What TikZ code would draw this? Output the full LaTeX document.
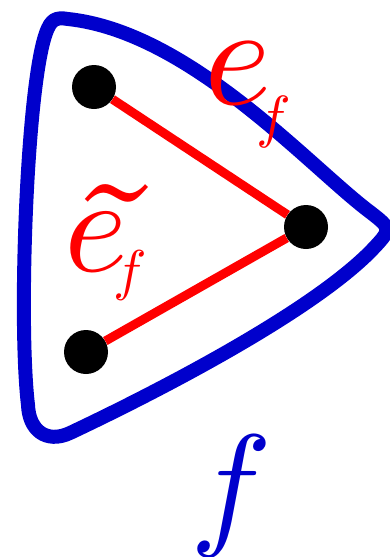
\documentclass[tikz,border=0pt]{standalone}
\DeclareFontShape{OML}{cmm}{m}{it}{<->cmmi10}{}
\DeclareFontShape{OT1}{cmr}{m}{n}{<->cmr10}{}
\DeclareFontShape{OMS}{cmsy}{m}{n}{<->cmsy10}{}
\DeclareFontShape{OMX}{cmex}{m}{n}{<->cmex10}{}
\definecolor{fblue}{RGB}{0,0,204}
\definecolor{ered}{RGB}{255,0,0}
\newcommand{\bigtil}{{\fontencoding{OT1}\fontfamily{cmr}\fontseries{m}\fontshape{n}\fontsize{190}{190}\selectfont\char126}}
\tikzset{
  facebd/.style={draw=fblue, line width=14pt, line join=round},
  vdot/.style={circle, fill=black, minimum size=44pt, inner sep=0pt},
  redge/.style={draw=ered, line width=9pt},
  lab/.style={inner sep=0pt, outer sep=0pt, anchor=base west}
}
\begin{document}
\begin{tikzpicture}[x=1pt,y=-1pt]
\useasboundingbox (0,0) rectangle (390,557);
\draw[facebd] (68,19) .. controls (190,32) and (310,167) .. (370,212)
  .. controls (392,229) .. (370,252)
  .. controls (304,318) and (140,400) .. (70,433)
  .. controls (46,444) and (29,430) .. (28,405)
  .. controls (18,320) and (27,85) .. (46,33)
  .. controls (51,19) and (56,17) .. cycle;
\node[vdot] (v1) at (94,87) {};
\node[vdot] (v2) at (306,227) {};
\node[vdot] (v3) at (86,352) {};
\draw[redge] (v1) -- (v2);
\draw[redge] (v2) -- (v3);
\node[lab, text=ered] (ef) at (204,104) {\fontsize{144}{144}\selectfont$e$\kern-15pt\raisebox{-32pt}{\fontsize{58}{58}\selectfont$f$}};
\node[lab, text=ered] (tef) at (64,271) {\rlap{\kern5pt\raisebox{-40pt}{\bigtil}}\fontsize{136}{136}\selectfont$e$\kern-14pt\raisebox{-18pt}{\fontsize{56}{56}\selectfont$f$}};
\node[lab, text=fblue] (flab) at (190,530) {\fontsize{137}{137}\selectfont$f$};
\end{tikzpicture}
\end{document}
